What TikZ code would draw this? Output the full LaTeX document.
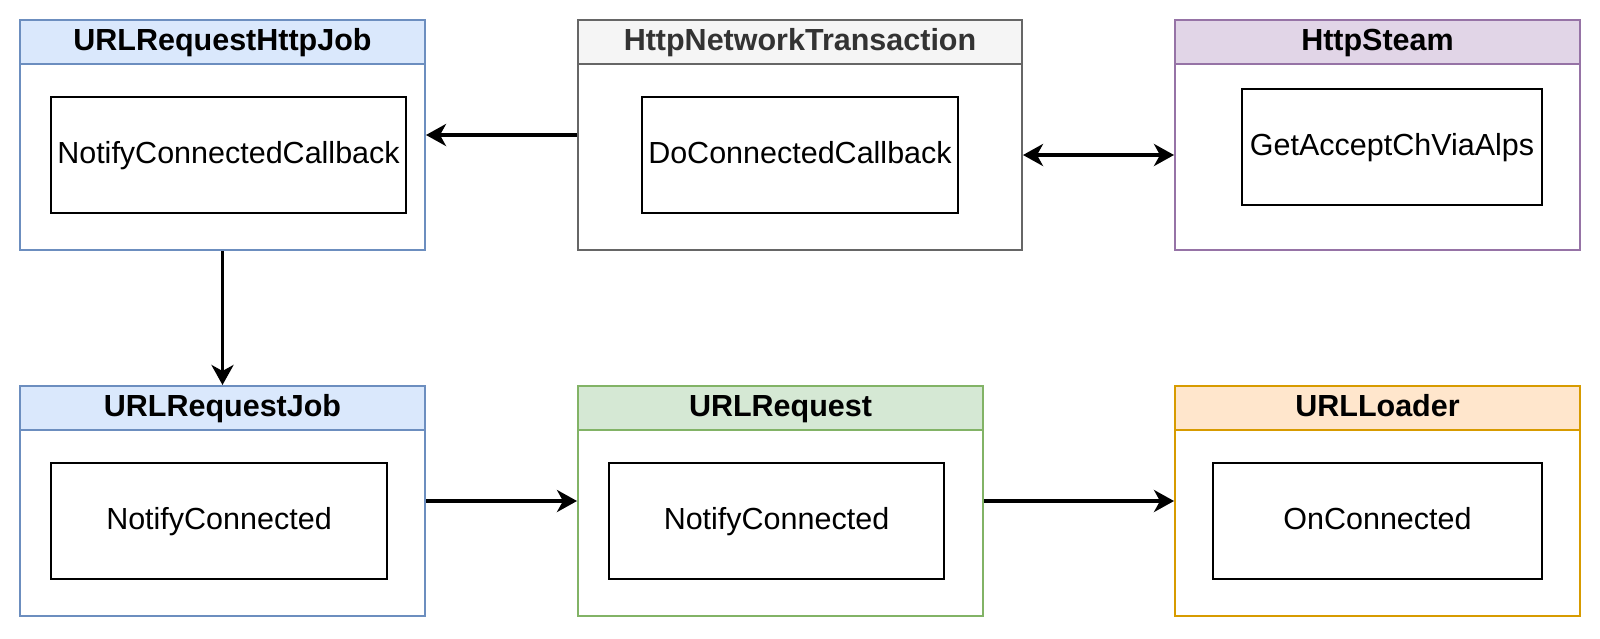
\documentclass[tikz,border=0pt]{standalone}
\usepackage{fontspec}
\setmainfont{Liberation Sans}
\usetikzlibrary{arrows.meta}
\definecolor{blueF}{HTML}{DAE8FC}\definecolor{blueD}{HTML}{6C8EBF}
\definecolor{grayF}{HTML}{F5F5F5}\definecolor{grayD}{HTML}{666666}
\definecolor{purF}{HTML}{E1D5E7}\definecolor{purD}{HTML}{9673A6}
\definecolor{grnF}{HTML}{D5E8D4}\definecolor{grnD}{HTML}{82B366}
\definecolor{orgF}{HTML}{FFE6CC}\definecolor{orgD}{HTML}{D79B00}
\definecolor{txtG}{HTML}{333333}
\tikzset{
  outerbox/.style={draw, line width=1pt, fill=white, minimum height=115pt, inner sep=0pt},
  headbox/.style={draw, line width=1pt, minimum height=22pt, inner sep=0pt, anchor=north,
    text height=11pt, text depth=3pt,
    font=\fontsize{15.25}{18}\selectfont\bfseries},
  innerbox/.style={draw=black, line width=1pt, fill=white, minimum height=58pt, inner sep=0pt,
    text height=11pt, text depth=3pt,
    font=\fontsize{15.25}{18}\selectfont},
  tip/.tip={Stealth[length=10pt,width=11pt,inset=3pt]},
  arr/.style={line width=1.8pt, -tip},
  arrboth/.style={line width=1.8pt, tip-tip}
}
\begin{document}
\begin{tikzpicture}[x=0.5pt,y=-0.5pt]
\useasboundingbox (0,0) rectangle (1600,638);
% top row
\node[outerbox, draw=blueD, minimum width=202.5pt] (rhj) at (222.5,135) {};
\node[headbox, draw=blueD, fill=blueF, minimum width=202.5pt] (rhjh) at (rhj.north) {URLRequestHttpJob};
\node[innerbox, minimum width=177.5pt] (ncc) at (228.5,155) {NotifyConnectedCallback};

\node[outerbox, draw=grayD, minimum width=222pt] (ntx) at (800,135) {};
\node[headbox, draw=grayD, fill=grayF, text=txtG, minimum width=222pt] (ntxh) at (ntx.north) {HttpNetworkTransaction};
\node[innerbox, minimum width=158pt] (dcc) at (800,155) {DoConnectedCallback};

\node[outerbox, draw=purD, minimum width=202.5pt] (hs) at (1377.5,135) {};
\node[headbox, draw=purD, fill=purF, minimum width=202.5pt] (hsh) at (hs.north) {HttpSteam};
\node[innerbox, minimum width=150pt] (gac) at (1392,147) {GetAcceptChViaAlps};

% bottom row
\node[outerbox, draw=blueD, minimum width=202.5pt] (rj) at (222.5,501) {};
\node[headbox, draw=blueD, fill=blueF, minimum width=202.5pt] (rjh) at (rj.north) {URLRequestJob};
\node[innerbox, minimum width=168pt] (nc1) at (219,521) {NotifyConnected};

\node[outerbox, draw=grnD, minimum width=202.5pt] (ur) at (780.5,501) {};
\node[headbox, draw=grnD, fill=grnF, minimum width=202.5pt] (urh) at (ur.north) {URLRequest};
\node[innerbox, minimum width=167.5pt] (nc2) at (776.5,521) {NotifyConnected};

\node[outerbox, draw=orgD, minimum width=202.5pt] (ul) at (1377.5,501) {};
\node[headbox, draw=orgD, fill=orgF, minimum width=202.5pt] (ulh) at (ul.north) {URLLoader};
\node[innerbox, minimum width=164.5pt] (oc) at (1377.5,521) {OnConnected};

% connectors
\draw[arr] (ntx.west) -- (rhj.east);
\draw[arrboth] (ntx.east |- dcc) -- (hs.west |- dcc);
\draw[arr] (rhj.south) -- (rj.north);
\draw[arr] (rj.east) -- (ur.west);
\draw[arr] (ur.east) -- (ul.west);
\end{tikzpicture}
\end{document}
